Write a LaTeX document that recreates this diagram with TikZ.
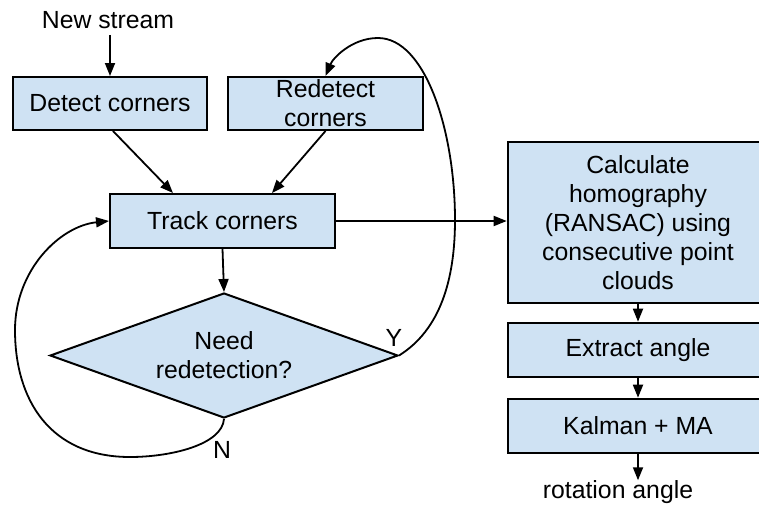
\documentclass[tikz,border=0pt]{standalone}
\usepackage{fontspec}
\setmainfont{Liberation Sans}
\usetikzlibrary{shapes.geometric,arrows.meta}
\definecolor{boxfill}{HTML}{CFE2F3}
\begin{document}
\begin{tikzpicture}[x=1pt,y=-1pt,
  every node/.style={font=\fontsize{24.8}{29}\selectfont, inner sep=0pt},
  procbox/.style={draw=black, fill=boxfill, line width=2pt, rectangle, align=center},
  decbox/.style={draw=black, fill=boxfill, line width=2pt, diamond, align=center, shape aspect=2.78, minimum width=348, minimum height=125},
  conn/.style={line width=1.8pt, -{Triangle[length=13pt,width=10pt]}},
  lbl/.style={}]
\useasboundingbox (0,0) rectangle (759,506);
\node[lbl] (ns) at (108,20) {New stream};
\node[procbox, minimum width=194, minimum height=53] (det) at (110,103.5) {Detect corners};
\node[procbox, minimum width=195, minimum height=53] (red) at (325.5,103.5) {Redetect\\corners};
\node[procbox, minimum width=225, minimum height=54] (trk) at (222.5,221) {Track corners};
\node[decbox] (dec) at (224,355.5) {Need\\redetection?};
\node[procbox, minimum width=260, minimum height=161, line width=2.6pt] (cal) at (638,222.5) {Calculate\\homography\\(RANSAC) using\\consecutive point\\clouds};
\node[procbox, minimum width=260, minimum height=54, line width=2.6pt] (ext) at (638,350) {Extract angle};
\node[procbox, minimum width=260, minimum height=54, line width=2.6pt] (kal) at (638,426) {Kalman + MA};
\node[lbl] (rot) at (618,492) {rotation angle};
\node[lbl] (ylab) at (394,338) {Y};
\node[lbl] (nlab) at (222,450) {N};

\draw[conn] (ns.south -| det.north) ++(0,6) -- (det.north);
\draw[conn] ([xshift=3pt]det.south) -- ([xshift=-49.5pt]trk.north);
\draw[conn] (red.south) -- ([xshift=49.5pt]trk.north);
\draw[conn] (trk.south) -- (dec.north);
\draw[conn] (trk.east) -- (trk.east -| cal.west);
\draw[conn] (cal.south) -- (ext.north);
\draw[conn] (ext.south) -- (kal.north);
\draw[conn] (kal.south) -- (kal.south |- rot.north);
\draw[conn] (dec.east) .. controls (440,330) and (455,280) .. (455,220)
  .. controls (455,130) and (425,38) .. (378,38)
  .. controls (352,38) and (333,58) .. (red.north);
\draw[conn] (dec.south) .. controls (222,445) and (170,457) .. (130,457)
  .. controls (50,457) and (15,400) .. (15,330)
  .. controls (15,270) and (60,226) .. (trk.west);
\end{tikzpicture}
\end{document}
